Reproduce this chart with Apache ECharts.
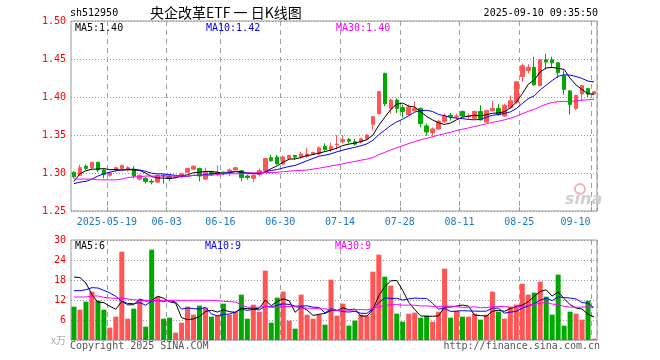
<!DOCTYPE html>
<html><head><meta charset="utf-8">
<script src="https://cdn.jsdelivr.net/npm/echarts@6/dist/echarts.min.js"></script>
<style>html,body{margin:0;padding:0;background:#fff}#c{width:660px;height:360px}</style>
</head><body><div id="c"></div>
<script>
const dates = ['2025-05-09','2025-05-12','2025-05-13','2025-05-14','2025-05-15','2025-05-16',
'2025-05-19','2025-05-20','2025-05-21','2025-05-22','2025-05-23',
'2025-05-26','2025-05-27','2025-05-28','2025-05-29','2025-05-30',
'2025-06-03','2025-06-04','2025-06-05','2025-06-06',
'2025-06-09','2025-06-10','2025-06-11','2025-06-12','2025-06-13',
'2025-06-16','2025-06-17','2025-06-18','2025-06-19','2025-06-20',
'2025-06-23','2025-06-24','2025-06-25','2025-06-26','2025-06-27',
'2025-06-30','2025-07-01','2025-07-02','2025-07-03','2025-07-04',
'2025-07-07','2025-07-08','2025-07-09','2025-07-10','2025-07-11',
'2025-07-14','2025-07-15','2025-07-16','2025-07-17','2025-07-18',
'2025-07-21','2025-07-22','2025-07-23','2025-07-24','2025-07-25',
'2025-07-28','2025-07-29','2025-07-30','2025-07-31','2025-08-01',
'2025-08-04','2025-08-05','2025-08-06','2025-08-07','2025-08-08',
'2025-08-11','2025-08-12','2025-08-13','2025-08-14','2025-08-15',
'2025-08-18','2025-08-19','2025-08-20','2025-08-21','2025-08-22',
'2025-08-25','2025-08-26','2025-08-27','2025-08-28','2025-08-29',
'2025-09-01','2025-09-02','2025-09-03','2025-09-04','2025-09-05',
'2025-09-08','2025-09-09','2025-09-10'];

const opens = [1.301,1.297,1.309,1.307,1.314,1.304,1.297,1.304,1.306,1.304,
1.305,1.292,1.293,1.289,1.288,1.297,1.296,1.294,1.295,1.301,
1.305,1.306,1.292,1.301,1.299,1.301,1.302,1.304,1.303,1.296,
1.293,1.298,1.303,1.320,1.321,1.312,1.319,1.323,1.321,1.322,
1.325,1.325,1.335,1.331,1.337,1.341,1.344,1.341,1.341,1.345,
1.364,1.378,1.431,1.385,1.396,1.386,1.377,1.382,1.385,1.362,
1.353,1.358,1.368,1.376,1.374,1.381,1.374,1.372,1.381,1.367,
1.382,1.385,1.375,1.386,1.393,1.427,1.435,1.439,1.415,1.449,
1.449,1.445,1.428,1.408,1.385,1.404,1.411,1.404];
const closes = [1.295,1.307,1.306,1.314,1.304,1.298,1.300,1.307,1.310,1.307,
1.296,1.297,1.289,1.288,1.297,1.296,1.293,1.295,1.299,1.306,
1.309,1.296,1.301,1.298,1.301,1.299,1.304,1.307,1.294,1.294,
1.297,1.303,1.319,1.316,1.312,1.321,1.323,1.321,1.325,1.325,
1.327,1.333,1.331,1.335,1.338,1.344,1.342,1.338,1.345,1.350,
1.374,1.407,1.391,1.396,1.385,1.381,1.387,1.385,1.365,1.354,
1.358,1.368,1.375,1.374,1.375,1.375,1.375,1.381,1.370,1.382,
1.385,1.377,1.389,1.395,1.420,1.441,1.439,1.416,1.449,1.446,
1.445,1.432,1.410,1.390,1.402,1.415,1.404,1.407];
const lows = [1.293,1.296,1.304,1.304,1.301,1.293,1.295,1.301,1.304,1.302,
1.293,1.290,1.286,1.285,1.287,1.286,1.289,1.293,1.293,1.301,
1.304,1.289,1.291,1.296,1.296,1.297,1.296,1.304,1.289,1.291,
1.288,1.295,1.302,1.315,1.311,1.310,1.317,1.317,1.319,1.320,
1.324,1.324,1.329,1.328,1.331,1.339,1.339,1.336,1.339,1.344,
1.356,1.377,1.388,1.378,1.379,1.373,1.375,1.381,1.360,1.349,
1.348,1.357,1.366,1.369,1.371,1.374,1.371,1.370,1.369,1.366,
1.381,1.375,1.374,1.385,1.391,1.420,1.431,1.415,1.414,1.436,
1.439,1.425,1.403,1.377,1.383,1.395,1.400,1.403];
const highs = [1.302,1.311,1.311,1.315,1.315,1.305,1.302,1.308,1.311,1.309,
1.309,1.298,1.295,1.292,1.298,1.298,1.297,1.296,1.300,1.307,
1.310,1.307,1.307,1.303,1.310,1.302,1.306,1.308,1.304,1.298,
1.298,1.306,1.320,1.324,1.324,1.323,1.324,1.324,1.328,1.333,
1.328,1.335,1.339,1.340,1.350,1.350,1.346,1.345,1.346,1.351,
1.375,1.408,1.432,1.398,1.398,1.390,1.390,1.394,1.386,1.365,
1.360,1.370,1.378,1.379,1.378,1.382,1.378,1.382,1.389,1.383,
1.395,1.391,1.391,1.402,1.421,1.444,1.443,1.453,1.450,1.457,
1.453,1.446,1.435,1.409,1.403,1.416,1.412,1.408];
// volume, unit 万
const volumes = [10.0,9.1,11.5,14.5,11.8,9.1,3.7,7.0,26.5,6.4,
9.4,12.1,4.0,27.1,13.0,6.4,6.7,2.2,5.2,10.0,
7.6,10.3,9.7,7.0,7.3,10.9,7.6,8.5,13.6,6.4,
10.6,8.5,20.8,5.2,12.7,14.5,5.8,3.4,13.6,7.6,
6.4,7.6,4.6,18.1,7.3,10.9,4.3,5.8,7.6,7.3,
20.5,25.6,19.0,16.3,7.9,5.5,7.9,8.2,6.7,7.3,
5.5,8.5,21.4,6.7,8.8,7.0,7.0,7.9,6.1,7.6,
14.5,8.5,6.4,10.0,10.6,16.9,13.6,14.2,17.5,13.0,
7.6,19.6,4.3,8.5,7.9,6.1,11.8,0.4];
const ma5Head = [1.289,1.299,1.303,1.305];
const ma10Head = [1.286,1.288,1.289,1.292,1.296,1.299,1.301,1.303,1.304];
const ma30Head = [1.292,1.292,1.292,1.292,1.291,1.291,1.291,1.291,1.292,1.294,1.295,1.295,1.296,1.296,1.296,1.296,1.296,1.296,1.296,1.296,1.297,1.297,1.297,1.297,1.298,1.299,1.299,1.299,1.299];
const vma5Head = [18.9,18.7,17.1,13.6];
const vma10Head = [14.8,14.8,15.1,15.7,15.6,14.9,14.1,13.1,11.6];
const vma30Head = [12.9,12.9,12.9,13.2,13.2,12.8,12.6,12.5,12.6,12.3,12.1,11.9,11.9,11.9,11.9,11.9,11.9,11.9,11.9,11.9,11.9,11.9,11.9,11.9,11.8,11.6,11.5,11.4,10.6];

const labelDates = ['2025-05-19','2025-06-03','2025-06-16','2025-06-30','2025-07-14','2025-07-28','2025-08-11','2025-08-25','2025-09-10'];
const tickLabels = ['2025-05-19','06-03','06-16','06-30','07-14','07-28','08-11','08-25','09-10'];
const priceTicks = [1.25,1.30,1.35,1.40,1.45,1.50];
const volTicks = [0,6,12,18,24,30];
const maLegend = ['MA5:1.40','MA10:1.42','MA30:1.40'];
const volLegend = ['MA5:6','MA10:9','MA30:9'];

function movingAvg(vals, n, head, dp) {
  return vals.map((v, i) => {
    if (i < n - 1) return head[i];
    let s = 0; for (let k = i - n + 1; k <= i; k++) s += vals[k];
    return +(s / n).toFixed(dp);
  });
}
const RED = '#FF5555', GREEN = '#00A800';
const MONO = '"DejaVu Sans Mono", monospace';
const kData = opens.map((o, i) => [o, closes[i], lows[i], highs[i]]);
const volData = volumes.map((v, i) => ({ value: v, itemStyle: { color: closes[i] >= opens[i] ? RED : GREEN } }));
const isLabel = (idx, val) => labelDates.indexOf(dates[idx]) >= 0;

const chart = echarts.init(document.getElementById('c'), null, { renderer: 'canvas' });
const splitV = { show: true, interval: isLabel, lineStyle: { color: '#a0a0a0', width: 1, type: [5, 4] } };
const splitH = { show: true, lineStyle: { color: '#999', width: 1, type: [1, 2] } };
const lineS = (name, data, color, xi, yi) => ({
  type: 'line', name, data, xAxisIndex: xi, yAxisIndex: yi, showSymbol: false, silent: true,
  lineStyle: { color, width: 1 }, z: 5
});

chart.setOption({
  animation: false,
  grid: [
    { left: 71, top: 21, width: 526, height: 190, show: true, borderColor: '#999', borderWidth: 1, backgroundColor: 'transparent' },
    { left: 71, top: 240, width: 526, height: 100, show: true, borderColor: '#999', borderWidth: 1, backgroundColor: 'transparent' }
  ],
  xAxis: [
    { type: 'category', gridIndex: 0, data: dates, boundaryGap: true,
      axisLine: { show: false },
      axisTick: { show: true, inside: true, length: 4, interval: isLabel, lineStyle: { color: '#999' } },
      axisLabel: { interval: isLabel, margin: 6,
        formatter: (v) => { const k = labelDates.indexOf(v); const t = tickLabels[k]; return k === labelDates.length - 1 ? '{b|' + t + '}' : '{a|' + t + '}'; },
        rich: {
          a: { color: '#1a78c8', fontFamily: MONO, fontSize: 10, padding: [0, 6, 0, 0] },
          b: { color: '#1a78c8', fontFamily: MONO, fontSize: 10, padding: [0, 37, 0, 0] }
        } },
      splitLine: splitV },
    { type: 'category', gridIndex: 1, data: dates, boundaryGap: true,
      axisLine: { show: false }, axisTick: { show: false }, axisLabel: { show: false },
      splitLine: splitV }
  ],
  yAxis: [
    { type: 'value', gridIndex: 0, min: priceTicks[0], max: priceTicks[priceTicks.length - 1], interval: 0.05,
      axisLine: { show: false }, axisTick: { show: false },
      axisLabel: { color: '#FF0000', fontFamily: MONO, fontSize: 10, margin: 5, formatter: (v) => v.toFixed(2) },
      splitLine: splitH },
    { type: 'value', gridIndex: 1, min: volTicks[0], max: volTicks[volTicks.length - 1], interval: 6,
      axisLine: { show: false }, axisTick: { show: false },
      axisLabel: { color: '#FF0000', fontFamily: MONO, fontSize: 10, margin: 5,
        formatter: (v) => v === 0 ? '{g|x万}' : String(v),
        rich: { g: { color: '#aaa', fontFamily: '"Noto Sans CJK SC", sans-serif', fontSize: 10 } } },
      splitLine: splitH }
  ],
  series: [
    { type: 'candlestick', xAxisIndex: 0, yAxisIndex: 0, data: kData, barWidth: 4,
      itemStyle: { color: RED, color0: GREEN, borderColor: RED, borderColor0: GREEN, borderWidth: 1 }, z: 3 },
    lineS('MA5', movingAvg(closes, 5, ma5Head, 4), '#000000', 0, 0),
    lineS('MA10', movingAvg(closes, 10, ma10Head, 4), '#0000FF', 0, 0),
    lineS('MA30', movingAvg(closes, 30, ma30Head, 4), '#FF00FF', 0, 0),
    { type: 'bar', xAxisIndex: 1, yAxisIndex: 1, data: volData, barWidth: 5, z: 3 },
    lineS('VMA5', movingAvg(volumes, 5, vma5Head, 2), '#000000', 1, 1),
    lineS('VMA10', movingAvg(volumes, 10, vma10Head, 2), '#0000FF', 1, 1),
    lineS('VMA30', movingAvg(volumes, 30, vma30Head, 2), '#FF00FF', 1, 1)
  ],
  graphic: [
    { type: 'text', x: 70, y: 13, style: { text: 'sh512950', font: '10px ' + MONO, fill: '#000', verticalAlign: 'middle' } },
    { type: 'text', x: 150, y: 13, style: { text: '央企改革ETF 一 日K线图', font: '14px "Noto Sans CJK SC"', fill: '#000', verticalAlign: 'middle' } },
    { type: 'text', x: 598, y: 13, style: { text: '2025-09-10 09:35:50', font: '10px ' + MONO, fill: '#000', align: 'right', verticalAlign: 'middle' } },
    { type: 'text', x: 75, y: 28, z: 10, style: { text: maLegend[0], font: '10px ' + MONO, fill: '#000', verticalAlign: 'middle' } },
    { type: 'text', x: 206, y: 28, z: 10, style: { text: maLegend[1], font: '10px ' + MONO, fill: '#0000FF', verticalAlign: 'middle' } },
    { type: 'text', x: 336, y: 28, z: 10, style: { text: maLegend[2], font: '10px ' + MONO, fill: '#FF00FF', verticalAlign: 'middle' } },
    { type: 'text', x: 75, y: 246, z: 10, style: { text: volLegend[0], font: '10px ' + MONO, fill: '#000', verticalAlign: 'middle' } },
    { type: 'text', x: 205, y: 246, z: 10, style: { text: volLegend[1], font: '10px ' + MONO, fill: '#0000FF', verticalAlign: 'middle' } },
    { type: 'text', x: 335, y: 246, z: 10, style: { text: volLegend[2], font: '10px ' + MONO, fill: '#FF00FF', verticalAlign: 'middle' } },
    { type: 'text', x: 70, y: 346, z: 10, style: { text: 'Copyright 2025 SINA.COM', font: '10px ' + MONO, fill: '#555', verticalAlign: 'middle' } },
    { type: 'text', x: 600, y: 346, z: 10, style: { text: 'http://finance.sina.com.cn', font: '10px ' + MONO, fill: '#555', align: 'right', verticalAlign: 'middle' } },
    { type: 'circle', shape: { cx: 580, cy: 189, r: 5 }, style: { fill: 'none', stroke: '#f2b3b3', lineWidth: 2 }, z: 1 },
    { type: 'text', x: 565, y: 200, z: 1, style: { text: 'sina', font: 'italic bold 16px "DejaVu Sans"', fill: '#cfcfcf', verticalAlign: 'middle' } }
  ]
});
</script></body></html>
